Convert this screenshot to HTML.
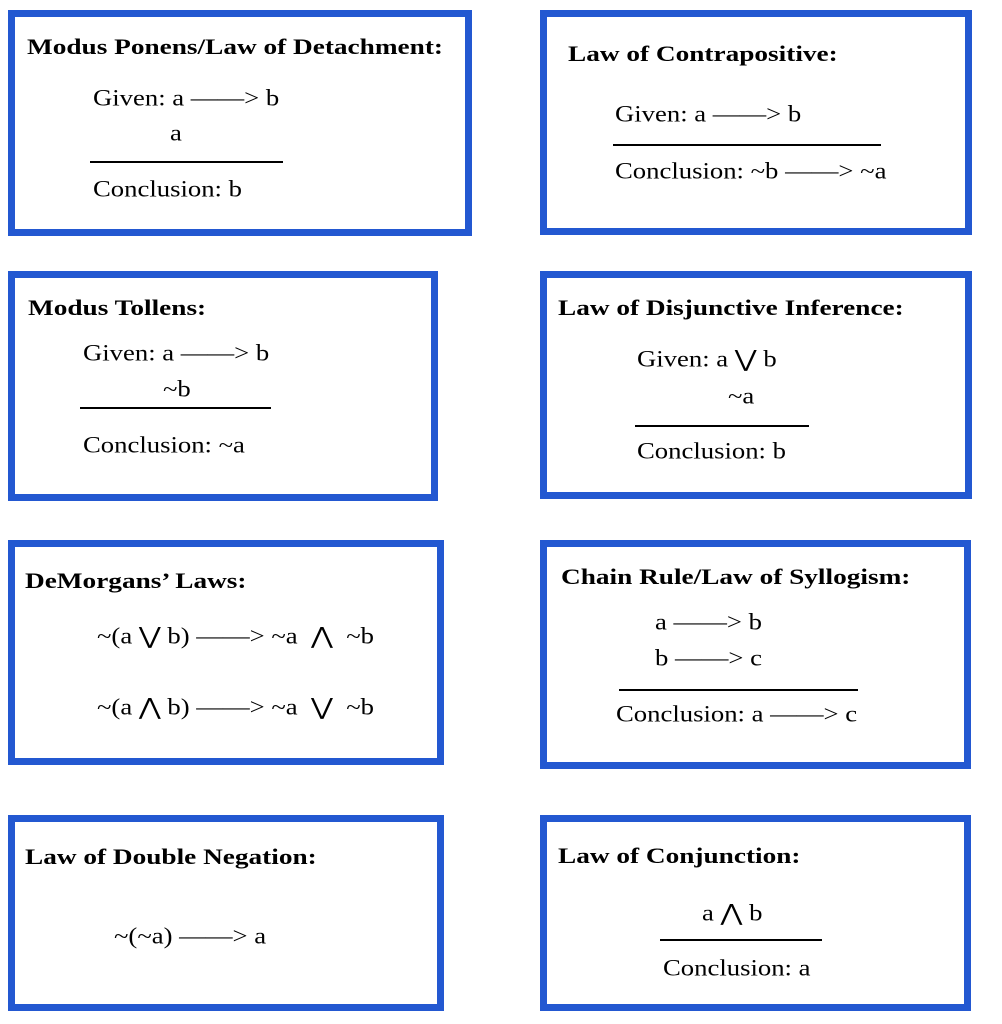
<!DOCTYPE html>
<html><head><style>
body{margin:0;width:1002px;height:1024px;background:#fff;position:relative;font-family:"Liberation Serif",serif;color:#000;overflow:hidden}
.b{position:absolute;border:7px solid #2358d1;box-sizing:border-box}
.t{position:absolute;white-space:nowrap;font-size:23px;line-height:1;transform-origin:0 50%;transform:translateY(-50%) scaleX(1.16)}
.h{font-weight:bold;font-size:22px;transform:translateY(-50%) scaleX(1.24)}
.l{position:absolute;height:2px;background:#000}
</style></head><body>
<div class="b" style="left:8px;top:10px;width:464px;height:226px"></div>
<div class="b" style="left:540px;top:10px;width:432px;height:225px"></div>
<div class="b" style="left:8px;top:271px;width:430px;height:230px"></div>
<div class="b" style="left:540px;top:271px;width:432px;height:228px"></div>
<div class="b" style="left:8px;top:540px;width:436px;height:225px"></div>
<div class="b" style="left:540px;top:540px;width:431px;height:229px"></div>
<div class="b" style="left:8px;top:815px;width:436px;height:196px"></div>
<div class="b" style="left:540px;top:815px;width:431px;height:196px"></div>

<div class="t h" style="left:27px;top:47px">Modus Ponens/Law of Detachment:</div>
<div class="t" style="left:93px;top:98px">Given: a ——&gt; b</div>
<div class="t" style="left:170px;top:133px">a</div>
<div class="l" style="left:90px;top:161px;width:193px"></div>
<div class="t" style="left:93px;top:189px">Conclusion: b</div>

<div class="t h" style="left:568px;top:54px">Law of Contrapositive:</div>
<div class="t" style="left:615px;top:114px">Given: a ——&gt; b</div>
<div class="l" style="left:613px;top:144px;width:268px"></div>
<div class="t" style="left:615px;top:171px">Conclusion: ~b ——&gt; ~a</div>

<div class="t h" style="left:28px;top:308px">Modus Tollens:</div>
<div class="t" style="left:83px;top:353px">Given: a ——&gt; b</div>
<div class="t" style="left:163px;top:389px">~b</div>
<div class="l" style="left:80px;top:407px;width:191px"></div>
<div class="t" style="left:83px;top:445px">Conclusion: ~a</div>

<div class="t h" style="left:558px;top:308px">Law of Disjunctive Inference:</div>
<div class="t" style="left:637px;top:359px">Given: a ⋁ b</div>
<div class="t" style="left:728px;top:396px">~a</div>
<div class="l" style="left:635px;top:425px;width:174px"></div>
<div class="t" style="left:637px;top:451px">Conclusion: b</div>

<div class="t h" style="left:25px;top:581px">DeMorgans’ Laws:</div>
<div class="t" style="left:97px;top:636px">~(a ⋁ b) ——&gt; ~a &nbsp;⋀ &nbsp;~b</div>
<div class="t" style="left:97px;top:707px">~(a ⋀ b) ——&gt; ~a &nbsp;⋁ &nbsp;~b</div>

<div class="t h" style="left:561px;top:577px">Chain Rule/Law of Syllogism:</div>
<div class="t" style="left:655px;top:622px">a ——&gt; b</div>
<div class="t" style="left:655px;top:658px">b ——&gt; c</div>
<div class="l" style="left:619px;top:689px;width:239px"></div>
<div class="t" style="left:616px;top:714px">Conclusion: a ——&gt; c</div>

<div class="t h" style="left:25px;top:857px">Law of Double Negation:</div>
<div class="t" style="left:114px;top:936px">~(~a) ——&gt; a</div>

<div class="t h" style="left:558px;top:856px">Law of Conjunction:</div>
<div class="t" style="left:702px;top:913px">a ⋀ b</div>
<div class="l" style="left:660px;top:939px;width:162px"></div>
<div class="t" style="left:663px;top:968px">Conclusion: a</div>
</body></html>
